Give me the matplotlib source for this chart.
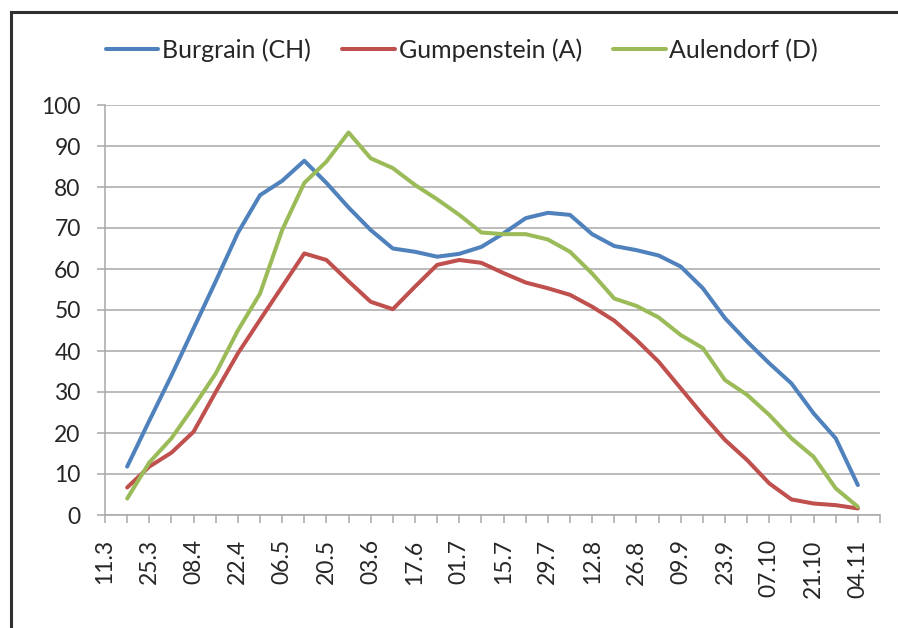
import matplotlib
matplotlib.use("Agg")
import matplotlib.pyplot as plt
import numpy as np
from matplotlib.lines import Line2D

# weekly values, first point one week after 11.3, last on 04.11
week = np.arange(1, 35)
burgrain = [11.8, 23, 34, 45.5, 57, 68.8, 78, 81.5, 86.4, 81, 75, 69.5, 65, 64.2, 63, 63.7, 65.4, 68.7,
            72.4, 73.7, 73.2, 68.5, 65.6, 64.6, 63.3, 60.6, 55.3, 48, 42.3, 37, 32.1, 24.8, 18.7, 7.3]
gumpenstein = [6.7, 11.8, 15.2, 20.3, 30, 39.4, 47.6, 55.7, 63.8, 62.2, 57, 52, 50.2, 55.7, 61, 62.2, 61.5, 59,
               56.7, 55.3, 53.7, 50.8, 47.4, 42.7, 37.4, 30.9, 24.4, 18.3, 13.4, 7.7, 3.8, 2.8, 2.4, 1.6]
aulendorf = [4, 12.8, 18.7, 26.4, 34.5, 45, 54, 69.5, 81, 86.2, 93.3, 87, 84.6, 80.5, 77, 73.2, 68.9, 68.5,
             68.5, 67.2, 64.2, 58.9, 52.8, 51, 48.2, 43.9, 40.7, 32.9, 29.3, 24.4, 18.7, 14.2, 6.5, 2]

date_labels = ['11.3', '25.3', '08.4', '22.4', '06.5', '20.5', '03.6', '17.6', '01.7',
               '15.7', '29.7', '12.8', '26.8', '09.9', '23.9', '07.10', '21.10', '04.11']
series_names = ['Burgrain (CH)', 'Gumpenstein (A)', 'Aulendorf (D)']
colors = ['#4F81BD', '#C0504D', '#9BBB59']

plt.rcParams['font.family'] = ['Lato', 'DejaVu Sans']
txt = '#262626'
grid = '#a8a8a8'

fig = plt.figure(figsize=(8.98, 6.28), dpi=100)
ax = fig.add_axes([105 / 898, 1 - 515 / 628, 775 / 898, 410 / 628])

for vals, name, c in zip([burgrain, gumpenstein, aulendorf], series_names, colors):
    ax.plot(week, vals, color=c, lw=2.9, label=name, solid_joinstyle='round', solid_capstyle='round')

ax.set_xlim(0, 35)
ax.set_ylim(0, 100)
ax.set_yticks(range(0, 101, 10))
ax.yaxis.grid(True, color=grid, lw=1.1)
ax.set_axisbelow(True)

ax.set_xticks(np.arange(0, 35, 2))
ax.set_xticklabels(date_labels, rotation=90, va='top', ha='center')
ax.set_xticks(np.arange(1, 36, 2), minor=True)

for s in ['top', 'right']:
    ax.spines[s].set_visible(False)
for s in ['left', 'bottom']:
    ax.spines[s].set_color(grid)
    ax.spines[s].set_linewidth(1.1)

ax.tick_params(axis='both', which='both', color=grid, width=1.1, length=5.5,
               labelsize=16.5, labelcolor=txt)
ax.tick_params(axis='x', which='both', pad=12)
ax.tick_params(axis='y', pad=12)

fig.legend(loc='center', bbox_to_anchor=(462 / 898, 1 - 50 / 628), ncol=3, frameon=False,
           fontsize=18, handlelength=2.1, handletextpad=0.15, columnspacing=1.25,
           labelcolor=txt)

# outer frame (left and top edges visible)
fig.add_artist(Line2D([11 / 898, 11 / 898], [0, 1 - 12 / 628], color='#303030', lw=2.2))
fig.add_artist(Line2D([11 / 898, 1], [1 - 12 / 628, 1 - 12 / 628], color='#303030', lw=2.2))

fig.savefig('out.png', dpi=100)
